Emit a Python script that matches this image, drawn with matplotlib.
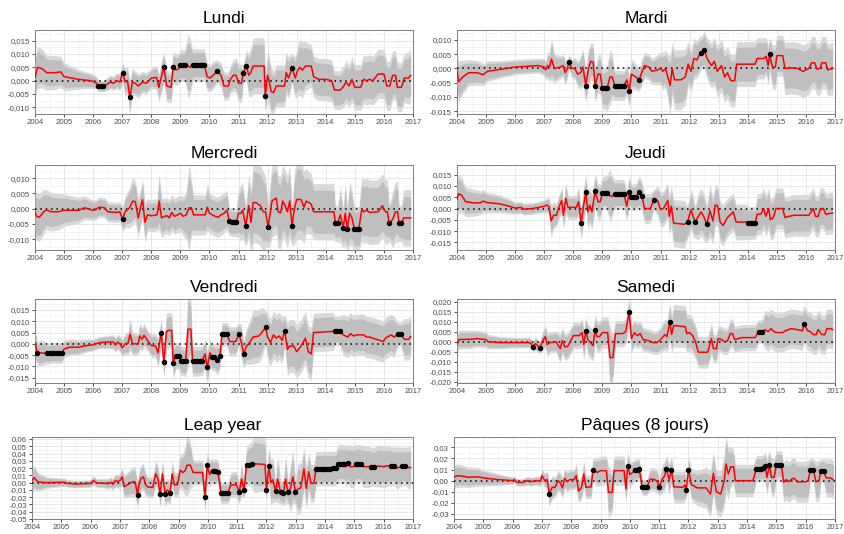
import matplotlib
matplotlib.use("Agg")
import matplotlib.pyplot as plt
from matplotlib.ticker import FixedLocator, MultipleLocator, FuncFormatter
import numpy as np

# rows: (year, effect in 1/1000, half width of the inner band in 1/1000, significant)
lundi = [
    (2004.00, 1.0, 6.0, 0), (2004.08, 5.0, 6.0, 0), (2004.25, 4.5, 5.5, 0), (2004.40, 3.0, 5.0, 0),
    (2004.70, 3.0, 4.8, 0), (2004.88, 3.3, 4.5, 0), (2005.00, 1.5, 4.0, 0), (2005.50, 0.5, 2.8, 0),
    (2005.90, 0.0, 2.2, 0), (2006.05, -0.5, 2.0, 0), (2006.12, -1.0, 1.8, 0), (2006.18, -2.0, 1.6, 1),
    (2006.27, -2.0, 1.6, 1), (2006.35, -2.0, 1.6, 1), (2006.45, -1.5, 1.8, 0), (2006.60, -0.5, 2.0, 0),
    (2006.70, -1.0, 2.0, 0), (2006.80, 0.0, 2.2, 0), (2006.92, -0.5, 2.5, 0), (2007.01, 3.0, 2.8, 1),
    (2007.10, -0.5, 4.0, 0), (2007.18, 0.0, 4.0, 0), (2007.26, -6.2, 5.0, 1), (2007.35, -0.5, 4.0, 0),
    (2007.45, -1.0, 3.5, 0), (2007.55, -2.0, 3.5, 0), (2007.70, -0.5, 3.0, 0), (2007.82, -1.0, 3.0, 0),
    (2007.92, 0.0, 3.0, 0), (2008.00, 1.0, 3.0, 0), (2008.18, 1.2, 3.5, 0), (2008.26, -2.5, 4.0, 0),
    (2008.36, 2.0, 4.5, 0), (2008.43, 5.0, 4.5, 1), (2008.53, -2.0, 4.5, 0), (2008.68, -2.5, 4.5, 0),
    (2008.75, 5.0, 4.5, 1), (2008.85, 4.0, 4.5, 0), (2008.95, 4.5, 4.5, 0), (2009.00, 5.7, 4.5, 1),
    (2009.08, 5.7, 4.5, 1), (2009.16, 5.7, 4.5, 1), (2009.26, 5.5, 9.0, 0), (2009.34, 5.0, 8.0, 0),
    (2009.42, 6.0, 4.5, 1), (2009.50, 6.0, 4.5, 1), (2009.58, 6.0, 4.5, 1), (2009.66, 6.0, 4.5, 1),
    (2009.74, 6.0, 4.5, 1), (2009.82, 6.0, 4.5, 1), (2009.92, 1.5, 4.0, 0), (2010.02, 1.0, 4.0, 0),
    (2010.12, 2.0, 4.0, 0), (2010.27, 3.5, 3.3, 1), (2010.40, 2.0, 3.5, 0), (2010.50, -2.0, 4.0, 0),
    (2010.65, -2.0, 4.0, 0), (2010.72, 0.5, 4.0, 0), (2010.82, 2.0, 4.5, 0), (2010.92, 2.0, 5.0, 0),
    (2011.00, -1.0, 5.5, 0), (2011.10, -1.0, 5.5, 0), (2011.16, 2.7, 2.5, 1), (2011.27, 5.5, 4.5, 1),
    (2011.35, 2.0, 6.0, 0), (2011.42, 3.0, 7.0, 0), (2011.50, 5.5, 8.0, 0), (2011.88, 5.5, 8.0, 0),
    (2011.92, -5.7, 5.0, 1), (2012.00, 2.0, 7.0, 0), (2012.06, -0.5, 7.0, 0), (2012.12, -4.0, 7.0, 0),
    (2012.20, -4.5, 6.0, 0), (2012.30, -2.0, 6.0, 0), (2012.58, -2.0, 6.0, 0), (2012.64, 3.0, 6.0, 0),
    (2012.72, 1.0, 6.0, 0), (2012.84, 4.8, 4.3, 1), (2012.95, 1.0, 6.0, 0), (2013.02, 3.5, 7.0, 0),
    (2013.10, 5.0, 8.0, 0), (2013.20, 4.0, 8.0, 0), (2013.30, 5.5, 7.0, 0), (2013.50, 5.5, 6.0, 0),
    (2013.58, 1.5, 6.0, 0), (2013.75, 0.5, 6.0, 0), (2014.00, 0.5, 6.0, 0), (2014.20, 0.0, 6.0, 0),
    (2014.30, -3.5, 5.5, 0), (2014.50, -3.5, 5.5, 0), (2014.62, -2.0, 6.0, 0), (2014.70, -0.5, 6.0, 0),
    (2014.80, -2.0, 6.0, 0), (2014.90, 0.5, 6.5, 0), (2015.00, -2.5, 6.5, 0), (2015.20, -2.5, 6.5, 0),
    (2015.30, 0.5, 7.0, 0), (2015.40, 0.0, 7.0, 0), (2015.50, 0.5, 7.0, 0), (2015.62, 0.0, 7.0, 0),
    (2015.80, 2.5, 7.0, 0), (2016.00, 2.5, 7.0, 0), (2016.10, -2.0, 7.0, 0), (2016.20, -2.0, 7.0, 0),
    (2016.30, 2.0, 7.0, 0), (2016.40, 2.0, 7.0, 0), (2016.46, -2.5, 7.0, 0), (2016.60, -2.5, 7.0, 0),
    (2016.70, 1.0, 7.0, 0), (2016.85, 1.0, 7.5, 0), (2016.92, 2.0, 7.5, 0),
]

mardi = [
    (2004.00, 0.0, 5.5, 0), (2004.05, -4.7, 5.5, 0), (2004.20, -3.0, 4.5, 0), (2004.40, -1.5, 3.5, 0),
    (2004.70, -1.5, 3.3, 0), (2004.90, -2.2, 3.0, 0), (2005.05, -1.0, 2.7, 0), (2005.50, -0.3, 2.3, 0),
    (2005.70, 0.0, 2.2, 0), (2006.00, 0.5, 2.0, 0), (2006.50, 0.8, 2.0, 0), (2006.80, 1.0, 2.0, 0),
    (2007.00, 0.5, 2.3, 0), (2007.05, -0.5, 2.5, 0), (2007.12, 1.0, 3.5, 0), (2007.18, 0.5, 4.0, 0),
    (2007.25, 3.3, 5.5, 0), (2007.35, 0.0, 4.0, 0), (2007.55, 0.5, 3.0, 0), (2007.65, 1.0, 3.0, 0),
    (2007.72, -1.5, 3.5, 0), (2007.80, 0.0, 2.5, 0), (2007.85, 2.3, 2.0, 1), (2007.95, 0.0, 2.5, 0),
    (2008.05, 0.0, 3.0, 0), (2008.15, -2.0, 3.5, 0), (2008.25, -1.5, 4.5, 0), (2008.33, 0.5, 5.0, 0),
    (2008.43, -6.0, 4.5, 1), (2008.52, 0.0, 5.0, 0), (2008.60, 2.5, 5.0, 0), (2008.68, 2.2, 5.0, 0),
    (2008.75, -6.0, 4.5, 1), (2008.85, -2.0, 5.0, 0), (2008.93, -2.0, 5.5, 0), (2009.00, -7.0, 5.5, 1),
    (2009.08, -7.0, 5.5, 1), (2009.16, -7.0, 6.0, 1), (2009.26, -3.0, 7.5, 0), (2009.34, -3.0, 6.0, 0),
    (2009.42, -6.0, 4.0, 1), (2009.50, -6.0, 4.0, 1), (2009.58, -6.0, 4.0, 1), (2009.66, -6.0, 4.0, 1),
    (2009.74, -6.0, 4.0, 1), (2009.84, -4.0, 4.0, 0), (2009.92, -8.0, 4.5, 1), (2010.00, -2.0, 4.0, 0),
    (2010.15, -3.0, 3.5, 0), (2010.27, -4.0, 3.0, 1), (2010.35, -1.5, 3.5, 0), (2010.45, 1.0, 3.5, 0),
    (2010.60, 0.5, 3.5, 0), (2010.70, -1.0, 3.5, 0), (2010.90, -0.5, 4.0, 0), (2011.00, 0.0, 4.5, 0),
    (2011.08, -1.0, 5.0, 0), (2011.17, 0.0, 5.0, 0), (2011.25, -3.0, 6.0, 0), (2011.33, -6.0, 8.0, 0),
    (2011.40, 0.0, 7.0, 0), (2011.48, -4.0, 8.0, 0), (2011.70, -4.0, 8.0, 0), (2011.85, -3.0, 7.5, 0),
    (2011.95, 1.5, 6.0, 0), (2012.05, -1.0, 5.5, 0), (2012.15, 3.5, 5.5, 0), (2012.25, 3.0, 5.0, 0),
    (2012.32, 4.5, 5.0, 0), (2012.40, 5.5, 4.5, 1), (2012.51, 6.5, 5.0, 1), (2012.60, 3.5, 5.5, 0),
    (2012.75, 1.0, 6.0, 0), (2012.85, 2.5, 6.5, 0), (2012.95, -1.0, 7.0, 0), (2013.10, 1.0, 7.0, 0),
    (2013.20, -3.0, 7.0, 0), (2013.30, -1.5, 7.0, 0), (2013.42, -4.3, 7.0, 0), (2013.55, -4.3, 7.0, 0),
    (2013.62, 1.5, 6.0, 0), (2014.00, 1.5, 6.0, 0), (2014.25, 1.5, 6.0, 0), (2014.32, 3.5, 5.5, 0),
    (2014.55, 3.5, 5.5, 0), (2014.63, 4.3, 5.0, 0), (2014.70, 1.0, 5.5, 0), (2014.75, 5.0, 4.5, 1),
    (2014.85, 0.5, 6.0, 0), (2014.95, 0.5, 6.0, 0), (2015.00, 4.5, 5.5, 0), (2015.20, 4.5, 5.5, 0),
    (2015.28, 0.0, 7.0, 0), (2015.50, 0.2, 7.0, 0), (2015.70, 0.0, 7.0, 0), (2015.90, -1.0, 7.0, 0),
    (2016.10, 0.0, 7.0, 0), (2016.20, 2.0, 7.0, 0), (2016.30, 2.0, 7.0, 0), (2016.38, -0.3, 7.0, 0),
    (2016.48, 0.0, 7.0, 0), (2016.55, 2.0, 7.0, 0), (2016.68, 2.0, 7.0, 0), (2016.75, -0.5, 7.0, 0),
    (2016.92, 0.0, 7.0, 0),
]

mercredi = [
    (2004.00, -1.0, 6.0, 0), (2004.05, -2.5, 6.0, 0), (2004.15, -2.8, 6.0, 0), (2004.30, -1.0, 5.5, 0),
    (2004.40, -0.3, 5.0, 0), (2004.55, -1.0, 4.8, 0), (2004.80, -1.0, 4.5, 0), (2005.00, -0.5, 4.0, 0),
    (2005.50, -0.5, 3.2, 0), (2005.70, 0.3, 3.0, 0), (2006.00, -0.5, 2.5, 0), (2006.10, -0.3, 2.5, 0),
    (2006.20, 0.5, 2.5, 0), (2006.40, 0.3, 2.5, 0), (2006.50, -1.0, 2.5, 0), (2006.80, -1.2, 2.5, 0),
    (2006.92, -1.0, 2.5, 0), (2007.01, -3.5, 3.0, 1), (2007.10, -1.0, 4.0, 0), (2007.25, 0.3, 5.0, 0),
    (2007.36, 2.5, 6.0, 0), (2007.45, 2.3, 5.0, 0), (2007.55, -3.0, 5.0, 0), (2007.62, 0.0, 4.5, 0),
    (2007.70, 3.0, 5.0, 0), (2007.78, -4.5, 5.0, 0), (2007.87, -2.0, 4.0, 0), (2008.00, -2.3, 4.0, 0),
    (2008.20, -2.0, 4.0, 0), (2008.27, 2.5, 7.0, 0), (2008.35, -3.0, 5.0, 0), (2008.45, -2.5, 4.5, 0),
    (2008.55, -2.3, 4.5, 0), (2008.62, -3.0, 4.5, 0), (2008.70, -1.2, 4.5, 0), (2008.80, -2.5, 4.5, 0),
    (2008.90, -2.0, 4.5, 0), (2009.00, -1.5, 4.5, 0), (2009.10, -2.5, 5.0, 0), (2009.20, -2.0, 6.0, 0),
    (2009.30, 0.3, 11.0, 0), (2009.38, 0.3, 7.0, 0), (2009.45, -2.0, 5.0, 0), (2009.85, -2.0, 5.0, 0),
    (2009.93, 0.5, 6.0, 0), (2010.00, -1.5, 5.0, 0), (2010.20, -2.5, 5.0, 0), (2010.30, -2.8, 5.0, 0),
    (2010.40, -2.0, 5.0, 0), (2010.50, -1.5, 5.0, 0), (2010.60, -0.5, 5.0, 0), (2010.68, -4.0, 3.5, 1),
    (2010.76, -4.5, 3.5, 1), (2010.84, -4.5, 3.5, 1), (2010.92, -4.5, 3.5, 1), (2011.00, -1.5, 6.0, 0),
    (2011.08, -1.5, 7.0, 0), (2011.14, -0.5, 7.0, 0), (2011.25, -5.8, 5.0, 1), (2011.35, 1.0, 8.0, 0),
    (2011.43, -4.5, 8.0, 0), (2011.50, 2.0, 10.0, 0), (2011.60, 2.0, 10.0, 0), (2011.75, 1.0, 10.0, 0),
    (2011.85, -1.0, 10.0, 0), (2011.93, -1.0, 9.0, 0), (2012.02, -6.0, 5.0, 1), (2012.08, -2.0, 8.0, 0),
    (2012.15, 2.5, 9.0, 0), (2012.22, 3.0, 9.0, 0), (2012.30, 3.5, 9.0, 0), (2012.36, -1.0, 9.0, 0),
    (2012.45, -1.3, 9.0, 0), (2012.52, 2.5, 9.0, 0), (2012.60, 1.0, 9.0, 0), (2012.68, -1.0, 9.0, 0),
    (2012.76, 2.5, 9.0, 0), (2012.84, -5.7, 5.0, 1), (2012.92, 0.0, 9.0, 0), (2013.00, 3.0, 10.0, 0),
    (2013.15, 3.0, 10.0, 0), (2013.25, 0.5, 9.0, 0), (2013.33, 2.5, 8.0, 0), (2013.50, 1.5, 7.5, 0),
    (2013.58, -1.0, 7.0, 0), (2014.28, -1.0, 7.0, 0), (2014.33, -4.8, 4.5, 1), (2014.41, -4.8, 4.5, 1),
    (2014.50, -2.0, 7.0, 0), (2014.60, -6.2, 5.0, 1), (2014.67, -1.5, 8.0, 0), (2014.74, -6.7, 5.5, 1),
    (2014.82, -1.5, 8.0, 0), (2014.90, -3.0, 7.0, 0), (2014.98, -6.5, 5.5, 1), (2015.06, -6.5, 5.5, 1),
    (2015.14, -6.5, 5.5, 1), (2015.24, 0.0, 8.0, 0), (2015.30, -1.0, 8.0, 0), (2015.40, -0.5, 8.0, 0),
    (2015.50, -1.2, 8.0, 0), (2015.80, -1.0, 8.0, 0), (2015.95, 1.0, 8.0, 0), (2016.05, -1.0, 8.0, 0),
    (2016.12, -1.0, 8.0, 0), (2016.18, -4.8, 4.5, 1), (2016.30, -3.5, 7.0, 0), (2016.40, -1.0, 7.5, 0),
    (2016.47, -1.0, 7.5, 0), (2016.52, -4.8, 4.5, 1), (2016.60, -4.8, 4.5, 1), (2016.68, -3.0, 7.0, 0),
    (2016.92, -3.0, 7.0, 0),
]

jeudi = [
    (2004.00, 4.0, 6.5, 0), (2004.05, 6.5, 6.5, 0), (2004.15, 6.0, 6.0, 0), (2004.30, 3.0, 5.0, 0),
    (2004.60, 2.5, 4.5, 0), (2004.80, 2.5, 4.0, 0), (2004.90, 3.3, 4.0, 0), (2005.00, 2.7, 3.5, 0),
    (2005.50, 2.0, 3.0, 0), (2005.80, 1.0, 2.5, 0), (2006.00, 0.2, 2.0, 0), (2006.20, 0.5, 2.0, 0),
    (2006.30, -0.3, 2.0, 0), (2006.60, 0.0, 2.0, 0), (2006.80, 0.5, 2.0, 0), (2007.00, 1.0, 2.2, 0),
    (2007.08, 1.5, 2.5, 0), (2007.16, 1.0, 3.0, 0), (2007.24, -5.5, 5.5, 0), (2007.32, -3.0, 4.5, 0),
    (2007.42, -3.0, 4.0, 0), (2007.50, 0.5, 4.0, 0), (2007.60, 3.5, 4.5, 0), (2007.66, -3.0, 4.5, 0),
    (2007.74, 4.5, 5.5, 0), (2007.82, 0.5, 4.0, 0), (2008.10, 0.5, 4.0, 0), (2008.18, 3.0, 5.0, 0),
    (2008.27, -6.5, 5.5, 1), (2008.35, 1.0, 6.0, 0), (2008.43, 7.5, 6.0, 1), (2008.50, -1.5, 6.0, 0),
    (2008.56, 1.5, 6.0, 0), (2008.64, -1.5, 6.0, 0), (2008.75, 7.7, 6.0, 1), (2008.85, 3.0, 6.0, 0),
    (2008.93, 3.0, 6.0, 0), (2009.00, 7.0, 5.5, 1), (2009.08, 7.0, 5.5, 1), (2009.16, 7.0, 6.0, 1),
    (2009.26, 5.5, 9.0, 0), (2009.34, 5.5, 7.0, 0), (2009.42, 6.3, 5.0, 1), (2009.50, 6.3, 5.0, 1),
    (2009.58, 6.3, 5.0, 1), (2009.66, 6.3, 5.0, 1), (2009.74, 6.3, 5.0, 1), (2009.84, 1.0, 5.0, 0),
    (2009.92, 7.3, 5.5, 1), (2010.00, 5.0, 4.5, 1), (2010.08, 5.0, 4.5, 1), (2010.16, 5.3, 4.5, 1),
    (2010.27, 7.3, 5.5, 1), (2010.36, 5.5, 5.0, 1), (2010.45, 0.0, 5.0, 0), (2010.65, 0.0, 5.0, 0),
    (2010.76, 3.7, 3.5, 1), (2010.90, 3.5, 5.0, 0), (2011.00, -0.5, 6.0, 0), (2011.10, 0.0, 6.0, 0),
    (2011.25, 3.5, 6.0, 0), (2011.30, -3.5, 6.5, 0), (2011.37, 1.0, 7.0, 0), (2011.45, -6.5, 8.0, 0),
    (2011.82, -7.0, 8.0, 0), (2011.93, -6.0, 5.5, 1), (2012.05, -0.5, 7.0, 0), (2012.12, -3.5, 7.0, 0),
    (2012.19, -6.0, 5.5, 1), (2012.30, -3.5, 8.0, 0), (2012.40, -1.5, 8.0, 0), (2012.50, -4.0, 8.0, 0),
    (2012.59, -7.0, 6.5, 1), (2012.70, -1.0, 9.0, 0), (2012.80, -5.5, 8.0, 0), (2012.88, 1.5, 7.0, 0),
    (2012.96, 1.3, 7.0, 0), (2013.05, -6.0, 7.0, 0), (2013.15, -7.5, 7.0, 0), (2013.30, -4.0, 6.5, 0),
    (2013.50, -1.5, 6.5, 0), (2013.60, -6.0, 6.0, 0), (2013.95, -6.0, 6.0, 0), (2014.02, -6.4, 5.5, 1),
    (2014.10, -6.4, 5.5, 1), (2014.18, -6.4, 5.5, 1), (2014.26, -6.4, 5.5, 1), (2014.32, -2.5, 7.0, 0),
    (2014.45, -2.5, 7.0, 0), (2014.55, 0.0, 7.0, 0), (2014.62, -3.5, 7.0, 0), (2014.72, 0.0, 7.0, 0),
    (2014.78, -5.0, 7.0, 0), (2014.88, -4.0, 7.0, 0), (2014.97, 0.0, 7.0, 0), (2015.20, 0.0, 7.0, 0),
    (2015.28, -4.0, 7.0, 0), (2015.40, -3.5, 7.0, 0), (2015.60, -3.0, 7.0, 0), (2016.10, -3.0, 7.0, 0),
    (2016.25, 0.0, 7.0, 0), (2016.33, -3.5, 7.0, 0), (2016.42, -3.5, 7.0, 0), (2016.50, 0.0, 7.0, 0),
    (2016.60, 0.0, 7.0, 0), (2016.68, -2.5, 7.0, 0), (2016.92, -2.0, 7.0, 0),
]

vendredi = [
    (2004.00, 0.5, 5.0, 0), (2004.08, -4.3, 4.0, 1), (2004.20, -4.0, 4.5, 0), (2004.42, -4.3, 3.5, 1),
    (2004.50, -4.3, 3.5, 1), (2004.58, -4.0, 3.5, 1), (2004.67, -4.0, 3.5, 1), (2004.75, -4.0, 3.5, 1),
    (2004.83, -4.0, 3.5, 1), (2004.92, -4.0, 3.5, 1), (2005.00, -2.3, 3.0, 0), (2005.20, -1.5, 2.8, 0),
    (2005.50, -1.5, 2.5, 0), (2005.80, -0.7, 2.2, 0), (2006.00, -0.5, 2.0, 0), (2006.20, 0.5, 2.0, 0),
    (2006.50, 0.8, 2.2, 0), (2006.70, 0.8, 2.5, 0), (2006.76, -0.5, 2.5, 0), (2006.85, 0.8, 2.5, 0),
    (2006.95, -0.5, 2.8, 0), (2007.00, -1.8, 3.0, 0), (2007.10, 0.0, 3.5, 0), (2007.20, 0.3, 4.0, 0),
    (2007.27, 4.3, 5.5, 0), (2007.35, 0.0, 4.0, 0), (2007.55, 0.0, 3.5, 0), (2007.60, 3.5, 4.5, 0),
    (2007.68, 2.0, 4.0, 0), (2007.75, 3.8, 4.0, 0), (2007.90, 1.0, 3.5, 0), (2008.00, -0.8, 4.0, 0),
    (2008.15, -1.0, 4.0, 0), (2008.23, -4.0, 5.0, 0), (2008.28, 0.0, 5.0, 0), (2008.34, 5.0, 4.5, 1),
    (2008.43, -8.0, 5.5, 1), (2008.52, 5.5, 6.0, 0), (2008.60, 6.0, 6.0, 0), (2008.70, 6.0, 6.0, 0),
    (2008.75, -8.3, 5.5, 1), (2008.85, -5.3, 4.5, 1), (2008.94, -5.3, 4.5, 1), (2009.02, -7.5, 5.0, 1),
    (2009.10, -7.8, 5.0, 1), (2009.18, -7.8, 5.0, 1), (2009.26, 6.5, 13.0, 0), (2009.36, 6.5, 10.0, 0),
    (2009.42, -7.8, 5.0, 1), (2009.50, -7.8, 5.0, 1), (2009.58, -7.8, 5.0, 1), (2009.66, -7.8, 5.0, 1),
    (2009.74, -7.6, 5.0, 1), (2009.85, -4.5, 5.0, 0), (2009.92, -10.5, 5.5, 1), (2010.02, -4.0, 5.0, 0),
    (2010.08, -6.0, 4.5, 1), (2010.17, -6.0, 4.5, 1), (2010.27, -7.3, 5.0, 1), (2010.36, -5.5, 4.5, 1),
    (2010.43, 4.2, 4.0, 1), (2010.51, 4.2, 4.0, 1), (2010.59, 4.2, 4.0, 1), (2010.70, 1.0, 5.0, 0),
    (2010.90, 1.0, 5.0, 0), (2011.01, 4.2, 4.0, 1), (2011.09, 1.0, 6.0, 0), (2011.18, -4.6, 4.5, 1),
    (2011.27, -1.0, 6.0, 0), (2011.35, 0.0, 7.0, 0), (2011.50, 3.0, 9.0, 0), (2011.70, 3.5, 9.0, 0),
    (2011.80, 5.0, 8.5, 0), (2011.93, 7.3, 6.0, 1), (2012.00, 3.0, 8.0, 0), (2012.10, 0.5, 8.0, 0),
    (2012.20, 4.0, 8.0, 0), (2012.30, 2.5, 8.0, 0), (2012.40, 3.5, 8.0, 0), (2012.50, 1.5, 8.0, 0),
    (2012.59, 5.8, 5.5, 1), (2012.68, -2.5, 9.0, 0), (2012.75, -1.0, 9.0, 0), (2012.90, -1.0, 9.0, 0),
    (2013.00, -3.5, 9.0, 0), (2013.15, -1.0, 9.0, 0), (2013.30, 2.5, 9.0, 0), (2013.40, -3.5, 9.0, 0),
    (2013.50, -4.5, 9.0, 0), (2013.58, 5.0, 6.5, 0), (2014.25, 5.5, 6.5, 0), (2014.32, 5.8, 5.0, 1),
    (2014.40, 5.8, 5.0, 1), (2014.48, 5.8, 5.0, 1), (2014.60, 4.0, 7.0, 0), (2014.75, 3.0, 7.0, 0),
    (2014.85, 4.5, 7.0, 0), (2014.95, 3.5, 7.0, 0), (2015.10, 4.0, 7.0, 0), (2015.30, 4.0, 7.0, 0),
    (2015.40, 3.0, 7.0, 0), (2015.50, 3.0, 7.0, 0), (2015.98, 1.0, 7.0, 0), (2016.05, 2.5, 7.0, 0),
    (2016.25, 4.0, 7.0, 0), (2016.35, 3.0, 7.0, 0), (2016.49, 4.3, 4.0, 1), (2016.58, 4.3, 4.0, 1),
    (2016.70, 2.0, 7.0, 0), (2016.85, 2.0, 7.0, 0), (2016.92, 3.3, 7.0, 0),
]

samedi = [
    (2004.00, -1.5, 3.5, 0), (2004.06, 1.0, 3.5, 0), (2004.50, 1.2, 3.5, 0), (2004.70, 1.5, 3.2, 0),
    (2005.00, 1.0, 3.0, 0), (2005.06, 0.0, 2.8, 0), (2005.50, -0.5, 2.3, 0), (2006.00, -0.5, 2.0, 0),
    (2006.50, -0.5, 2.0, 0), (2006.55, -1.0, 2.0, 0), (2006.60, -2.5, 2.0, 1), (2006.70, -1.0, 2.5, 0),
    (2006.85, -3.0, 2.5, 1), (2006.95, 0.5, 3.5, 0), (2007.04, 2.5, 4.5, 0), (2007.10, -1.5, 4.5, 0),
    (2007.20, -0.5, 4.0, 0), (2007.40, 0.0, 4.0, 0), (2007.55, -3.5, 5.5, 0), (2007.62, 0.5, 5.0, 0),
    (2007.70, -2.5, 5.0, 0), (2007.80, -2.5, 5.0, 0), (2007.90, 0.0, 5.0, 0), (2008.00, 3.0, 5.0, 0),
    (2008.20, 3.0, 5.0, 0), (2008.30, 4.5, 5.5, 0), (2008.36, -1.5, 6.0, 0), (2008.43, 5.5, 5.0, 1),
    (2008.50, 1.0, 6.0, 0), (2008.68, -2.0, 6.0, 0), (2008.75, 6.0, 5.5, 1), (2008.82, 2.5, 6.0, 0),
    (2008.90, 2.5, 6.0, 0), (2009.00, 4.5, 6.0, 0), (2009.18, 4.5, 6.0, 0), (2009.26, -8.0, 12.0, 0),
    (2009.36, -8.0, 9.0, 0), (2009.45, 4.0, 5.0, 0), (2009.70, 4.0, 5.0, 0), (2009.80, 5.0, 5.0, 0),
    (2009.92, 14.7, 6.0, 1), (2010.00, 1.5, 5.5, 0), (2010.10, 4.5, 5.0, 0), (2010.20, 3.0, 5.0, 0),
    (2010.30, 4.0, 5.0, 0), (2010.40, 1.0, 4.5, 0), (2010.60, 0.5, 4.5, 0), (2010.75, -0.5, 4.5, 0),
    (2010.88, -0.5, 4.5, 0), (2011.00, 1.0, 5.0, 0), (2011.15, 3.5, 6.0, 0), (2011.22, 2.5, 6.0, 0),
    (2011.32, 10.0, 7.5, 1), (2011.38, 3.5, 7.0, 0), (2011.45, 8.0, 8.0, 0), (2011.85, 7.5, 8.0, 0),
    (2011.90, 4.0, 7.5, 0), (2012.00, 4.5, 7.0, 0), (2012.10, 3.0, 7.0, 0), (2012.20, 0.0, 6.5, 0),
    (2012.30, -5.3, 6.0, 0), (2012.62, -5.3, 6.0, 0), (2012.75, 1.5, 6.0, 0), (2012.82, -3.5, 5.5, 0),
    (2012.92, -3.5, 5.5, 0), (2012.98, 1.5, 5.0, 0), (2013.10, 1.0, 5.0, 0), (2013.20, 0.0, 5.0, 0),
    (2013.30, 0.3, 5.0, 0), (2013.40, 4.0, 5.5, 0), (2013.48, 4.0, 5.5, 0), (2013.55, 1.0, 5.0, 0),
    (2013.80, 2.0, 5.0, 0), (2014.25, 2.0, 5.0, 0), (2014.37, 5.0, 4.5, 1), (2014.50, 5.0, 4.5, 1),
    (2014.60, 6.0, 7.5, 0), (2014.70, 5.0, 7.5, 0), (2014.80, 6.5, 7.5, 0), (2014.90, 5.0, 7.5, 0),
    (2015.00, 4.5, 7.5, 0), (2015.20, 4.5, 7.5, 0), (2015.30, 5.5, 7.5, 0), (2015.50, 6.5, 7.5, 0),
    (2015.88, 5.5, 7.5, 0), (2015.94, 8.8, 7.0, 1), (2016.05, 5.5, 7.5, 0), (2016.15, 5.0, 7.5, 0),
    (2016.25, 3.5, 7.5, 0), (2016.35, 3.5, 7.5, 0), (2016.42, 6.0, 7.5, 0), (2016.55, 3.5, 7.5, 0),
    (2016.65, 3.5, 7.5, 0), (2016.72, 6.5, 7.5, 0), (2016.85, 6.5, 7.5, 0), (2016.92, 6.0, 7.5, 0),
]

leap_year = [
    (2004.00, 3.0, 14.0, 0), (2004.08, 7.0, 13.0, 0), (2004.20, 1.0, 10.0, 0), (2004.50, 0.0, 6.0, 0),
    (2005.00, 0.5, 4.5, 0), (2005.10, 0.5, 4.5, 0), (2005.20, -1.0, 4.0, 0), (2005.50, -2.0, 4.0, 0),
    (2006.00, -1.0, 4.0, 0), (2006.10, 3.0, 5.0, 0), (2006.20, -0.5, 4.5, 0), (2006.50, -1.0, 5.0, 0),
    (2006.60, -1.5, 5.5, 0), (2006.70, 0.5, 6.0, 0), (2006.76, -2.5, 6.0, 0), (2006.84, 3.0, 7.0, 0),
    (2006.92, 1.5, 7.0, 0), (2007.00, 3.0, 8.0, 0), (2007.08, 8.0, 10.0, 0), (2007.14, -5.5, 12.0, 0),
    (2007.30, -2.0, 14.0, 0), (2007.42, 1.0, 16.0, 0), (2007.52, 1.0, 16.0, 0), (2007.60, -17.0, 14.0, 1),
    (2007.66, 0.0, 14.0, 0), (2007.72, 6.0, 14.0, 0), (2007.80, 8.0, 14.0, 0), (2007.88, -3.0, 12.0, 0),
    (2007.95, -6.0, 11.0, 0), (2008.12, -6.5, 11.0, 0), (2008.22, 12.5, 14.0, 0), (2008.30, 5.0, 14.0, 0),
    (2008.37, -16.0, 14.0, 1), (2008.45, 12.0, 14.0, 0), (2008.54, -15.0, 13.0, 1), (2008.62, -10.0, 13.0, 0),
    (2008.71, -14.0, 12.0, 1), (2008.78, 12.0, 14.0, 0), (2008.86, -3.0, 13.0, 0), (2008.96, -3.0, 13.0, 0),
    (2009.06, 17.0, 18.0, 0), (2009.15, 14.0, 20.0, 0), (2009.22, 16.0, 25.0, 0), (2009.29, 24.0, 33.0, 0),
    (2009.40, 24.0, 25.0, 0), (2009.50, 14.0, 13.0, 0), (2009.82, 14.0, 13.0, 0), (2009.90, -20.0, 17.0, 1),
    (2009.98, 24.0, 15.0, 1), (2010.06, 11.0, 14.0, 0), (2010.12, 16.0, 14.0, 0), (2010.18, 15.5, 13.0, 1),
    (2010.26, 15.5, 13.0, 1), (2010.34, 15.0, 13.0, 1), (2010.45, -14.0, 11.0, 1), (2010.53, -14.2, 11.0, 1),
    (2010.61, -14.2, 11.0, 1), (2010.69, -14.0, 11.0, 1), (2010.78, -3.0, 13.0, 0), (2010.98, -3.0, 14.0, 0),
    (2011.07, -13.3, 12.0, 1), (2011.15, 5.0, 18.0, 0), (2011.23, -10.0, 9.0, 1), (2011.32, 24.0, 20.0, 1),
    (2011.41, 24.5, 22.0, 1), (2011.50, 25.0, 24.0, 1), (2011.58, 26.0, 30.0, 0), (2011.95, 25.0, 28.0, 0),
    (2012.00, -10.5, 9.0, 1), (2012.08, 23.0, 20.0, 1), (2012.15, 0.0, 24.0, 0), (2012.22, 4.0, 24.0, 0),
    (2012.31, -12.0, 11.0, 1), (2012.38, 5.0, 25.0, 0), (2012.48, -13.0, 12.0, 1), (2012.58, -14.5, 13.0, 1),
    (2012.65, 5.0, 25.0, 0), (2012.74, -13.5, 12.0, 1), (2012.82, -8.0, 25.0, 0), (2012.90, 8.0, 28.0, 0),
    (2012.99, -13.5, 12.0, 1), (2013.07, -9.0, 28.0, 0), (2013.17, -7.0, 25.0, 0), (2013.28, 19.0, 22.0, 0),
    (2013.36, -8.0, 22.0, 0), (2013.44, 15.0, 20.0, 0), (2013.52, -1.0, 20.0, 0), (2013.62, -1.0, 20.0, 0),
    (2013.69, 19.3, 18.0, 1), (2013.77, 19.3, 18.0, 1), (2013.85, 19.3, 18.0, 1), (2013.93, 19.3, 18.0, 1),
    (2014.01, 19.3, 18.0, 1), (2014.10, 19.3, 18.0, 1), (2014.18, 19.3, 18.0, 1), (2014.27, 19.5, 18.0, 1),
    (2014.36, 19.5, 18.0, 1), (2014.44, 26.0, 20.0, 1), (2014.52, 26.0, 20.0, 1), (2014.60, 26.0, 20.0, 1),
    (2014.66, 26.0, 20.0, 1), (2014.72, 22.0, 22.0, 0), (2014.78, 26.5, 20.0, 1), (2014.86, 22.0, 22.0, 0),
    (2014.98, 22.0, 22.0, 0), (2015.05, 26.0, 20.0, 1), (2015.13, 26.0, 20.0, 1), (2015.21, 26.0, 20.0, 1),
    (2015.30, 22.0, 22.0, 0), (2015.50, 22.0, 22.0, 0), (2015.58, 21.5, 20.0, 1), (2015.66, 21.5, 20.0, 1),
    (2015.80, 23.0, 22.0, 0), (2016.00, 22.0, 22.0, 0), (2016.10, 23.0, 22.0, 0), (2016.26, 23.0, 20.0, 1),
    (2016.36, 22.5, 20.0, 1), (2016.45, 20.0, 22.0, 0), (2016.64, 22.5, 20.0, 1), (2016.74, 22.5, 20.0, 1),
    (2016.85, 20.5, 22.0, 0), (2016.92, 21.0, 22.0, 0),
]

paques = [
    (2004.00, 3.0, 8.0, 0), (2004.10, 4.5, 8.0, 0), (2004.30, 4.0, 7.5, 0), (2004.50, 3.0, 7.0, 0),
    (2004.80, 3.5, 6.5, 0), (2005.00, 2.5, 5.5, 0), (2005.50, 1.0, 4.0, 0), (2006.00, 0.0, 2.5, 0),
    (2006.05, 1.0, 2.5, 0), (2006.15, -1.5, 2.5, 0), (2006.35, -1.5, 2.5, 0), (2006.50, 0.0, 3.0, 0),
    (2006.60, -1.0, 3.0, 0), (2006.80, 0.0, 3.0, 0), (2006.95, -0.5, 3.5, 0), (2007.00, 4.5, 5.0, 0),
    (2007.10, 0.0, 5.0, 0), (2007.18, 1.0, 6.0, 0), (2007.25, -12.0, 9.0, 1), (2007.35, -6.0, 8.0, 0),
    (2007.45, -6.0, 7.0, 0), (2007.55, 0.0, 7.0, 0), (2007.63, -2.0, 7.0, 0), (2007.70, -6.5, 7.0, 0),
    (2007.78, 2.0, 7.0, 0), (2007.86, -1.0, 7.0, 0), (2007.95, 1.0, 7.0, 0), (2008.10, 1.0, 7.0, 0),
    (2008.17, 4.5, 8.0, 0), (2008.25, -9.5, 8.0, 0), (2008.35, -6.0, 8.0, 0), (2008.43, 6.0, 9.0, 0),
    (2008.50, -6.0, 8.0, 0), (2008.68, -5.5, 8.0, 0), (2008.74, 10.0, 8.0, 1), (2008.88, 7.5, 10.0, 0),
    (2009.00, 9.0, 10.0, 0), (2009.20, 9.0, 10.0, 0), (2009.27, -10.5, 18.0, 0), (2009.40, -10.5, 14.0, 0),
    (2009.46, 9.0, 10.0, 0), (2009.80, 9.0, 10.0, 0), (2009.87, -7.5, 10.0, 0), (2009.92, 13.0, 10.0, 1),
    (2010.00, 5.5, 9.0, 0), (2010.08, 7.0, 8.0, 0), (2010.17, 9.5, 7.5, 1), (2010.25, 10.0, 7.5, 1),
    (2010.32, 10.5, 7.5, 1), (2010.42, -6.0, 5.5, 1), (2010.50, -6.0, 5.5, 1), (2010.58, -6.0, 5.5, 1),
    (2010.70, 1.5, 8.0, 0), (2010.85, 1.0, 8.0, 0), (2010.94, -1.0, 8.0, 0), (2011.00, -6.0, 5.5, 1),
    (2011.10, 1.0, 10.0, 0), (2011.18, 4.0, 10.0, 0), (2011.25, 10.5, 9.0, 1), (2011.34, 1.0, 11.0, 0),
    (2011.42, 9.5, 9.0, 1), (2011.50, -5.5, 11.0, 0), (2011.80, -6.0, 11.0, 0), (2011.88, -4.0, 11.0, 0),
    (2011.92, -8.0, 7.0, 1), (2012.00, 9.5, 9.0, 1), (2012.10, -3.5, 11.0, 0), (2012.30, -6.5, 12.0, 0),
    (2012.60, -6.5, 14.0, 0), (2012.75, -12.0, 16.0, 0), (2012.85, 6.5, 15.0, 0), (2012.95, -10.0, 15.0, 0),
    (2013.10, -12.0, 16.0, 0), (2013.22, 0.0, 18.0, 0), (2013.28, 15.0, 20.0, 0), (2013.36, 6.0, 18.0, 0),
    (2013.44, 12.5, 14.0, 0), (2013.54, 12.5, 12.0, 0), (2013.60, 0.0, 11.0, 0), (2014.20, 0.0, 11.0, 0),
    (2014.32, 10.8, 9.0, 1), (2014.40, 10.8, 9.0, 1), (2014.48, 10.8, 9.0, 1), (2014.55, 11.0, 9.0, 1),
    (2014.61, 13.2, 10.0, 1), (2014.68, 3.0, 13.0, 0), (2014.76, 14.4, 10.0, 1), (2014.83, 3.0, 13.0, 0),
    (2014.92, 3.0, 13.0, 0), (2015.00, 13.8, 10.0, 1), (2015.08, 13.8, 10.0, 1), (2015.17, 13.8, 10.0, 1),
    (2015.25, -1.5, 14.0, 0), (2015.33, 1.0, 14.0, 0), (2015.42, -1.0, 14.0, 0), (2015.55, 2.0, 14.0, 0),
    (2015.62, 2.0, 14.0, 0), (2015.70, -1.0, 14.0, 0), (2016.00, -1.0, 14.0, 0), (2016.08, 0.0, 14.0, 0),
    (2016.16, 9.5, 8.0, 1), (2016.26, 9.5, 8.0, 1), (2016.35, -1.0, 14.0, 0), (2016.45, 0.0, 14.0, 0),
    (2016.52, 9.0, 8.0, 1), (2016.61, 9.0, 8.0, 1), (2016.70, 2.5, 13.0, 0), (2016.85, 2.5, 13.0, 0),
    (2016.95, 0.5, 13.0, 0),
]

titles = ["Lundi", "Mardi", "Mercredi", "Jeudi", "Vendredi", "Samedi", "Leap year", "Pâques (8 jours)"]
series = [lundi, mardi, mercredi, jeudi, vendredi, samedi, leap_year, paques]
ylims = [(-0.0125, 0.019), (-0.016, 0.0135), (-0.0135, 0.0143), (-0.0184, 0.0193),
         (-0.0174, 0.0199), (-0.0207, 0.0213), (-0.050, 0.0628), (-0.0345, 0.0393)]
yticks = [
    [-0.010, -0.005, 0.0, 0.005, 0.010, 0.015],
    [-0.015, -0.010, -0.005, 0.0, 0.005, 0.010],
    [-0.010, -0.005, 0.0, 0.005, 0.010],
    [-0.015, -0.010, -0.005, 0.0, 0.005, 0.010, 0.015],
    [-0.015, -0.010, -0.005, 0.0, 0.005, 0.010, 0.015],
    [-0.020, -0.015, -0.010, -0.005, 0.0, 0.005, 0.010, 0.015, 0.020],
    [-0.05, -0.04, -0.03, -0.02, -0.01, 0.0, 0.01, 0.02, 0.03, 0.04, 0.05, 0.06],
    [-0.03, -0.02, -0.01, 0.0, 0.01, 0.02, 0.03],
]
decimals = [3, 3, 3, 3, 3, 3, 2, 2]
years = list(range(2004, 2018))

# outer band / inner band width ratio (99% vs 95%)
OUTER = 2.576 / 1.96

plt.rcParams['font.family'] = ['Liberation Sans', 'DejaVu Sans']

fig = plt.figure(figsize=(8.44, 5.34), dpi=100)
W, H = 844, 534
# axes boxes in pixels: left, right, top, bottom
boxes = [
    (35, 413, 30, 114), (457, 835, 30, 114),
    (35, 413, 165, 250), (457, 835, 165, 250),
    (35, 413, 299, 383), (457, 835, 299, 383),
    (32, 413, 437, 519), (454, 835, 437, 519),
]


def make_fmt(nd):
    def f(v, pos):
        s = f"{round(v, nd):.{nd}f}"
        if s.startswith("-") and float(s) == 0:
            s = s[1:]
        return s.replace(".", ",")
    return f


for i in range(8):
    l, r, t, b = boxes[i]
    ax = fig.add_axes([l / W, 1 - b / H, (r - l) / W, (b - t) / H])
    data = np.array(series[i], dtype=float)
    x = data[:, 0]
    v = data[:, 1] / 1000
    w = data[:, 2] / 1000
    sig = data[:, 3] > 0

    ax.fill_between(x, v - w * OUTER, v + w * OUTER, color="#d9d9d9", lw=0, zorder=2)
    ax.fill_between(x, v - w, v + w, color="#bfbfbf", lw=0, zorder=3)
    ax.axhline(0, color="black", ls=(0, (1, 2.5)), lw=1.1, zorder=4)
    ax.plot(x, v, color="red", lw=1.1, zorder=5)
    ax.plot(x[sig], v[sig], "o", color="black", ms=2.9, zorder=6)

    ax.set_xlim(2004, 2017)
    ax.set_ylim(*ylims[i])
    ax.xaxis.set_major_locator(FixedLocator(years))
    ax.xaxis.set_minor_locator(MultipleLocator(0.5))
    step = yticks[i][1] - yticks[i][0]
    ax.yaxis.set_major_locator(FixedLocator(yticks[i]))
    ax.yaxis.set_minor_locator(MultipleLocator(step / 2))
    ax.yaxis.set_major_formatter(FuncFormatter(make_fmt(decimals[i])))

    ax.grid(True, which="major", color="#e3e3e3", lw=0.6, zorder=0)
    ax.grid(True, which="minor", color="#f0f0f0", lw=0.4, zorder=0)
    ax.set_axisbelow(True)
    ax.tick_params(which="major", length=2.2, width=0.6, color="#333333",
                   labelsize=5.6, labelcolor="#4d4d4d", pad=1.5)
    ax.tick_params(which="minor", length=0)
    for sp in ax.spines.values():
        sp.set_color("#7f7f7f")
        sp.set_linewidth(0.7)
    ax.set_title(titles[i], fontsize=12.5, pad=5)

fig.savefig("out.png", dpi=100)
